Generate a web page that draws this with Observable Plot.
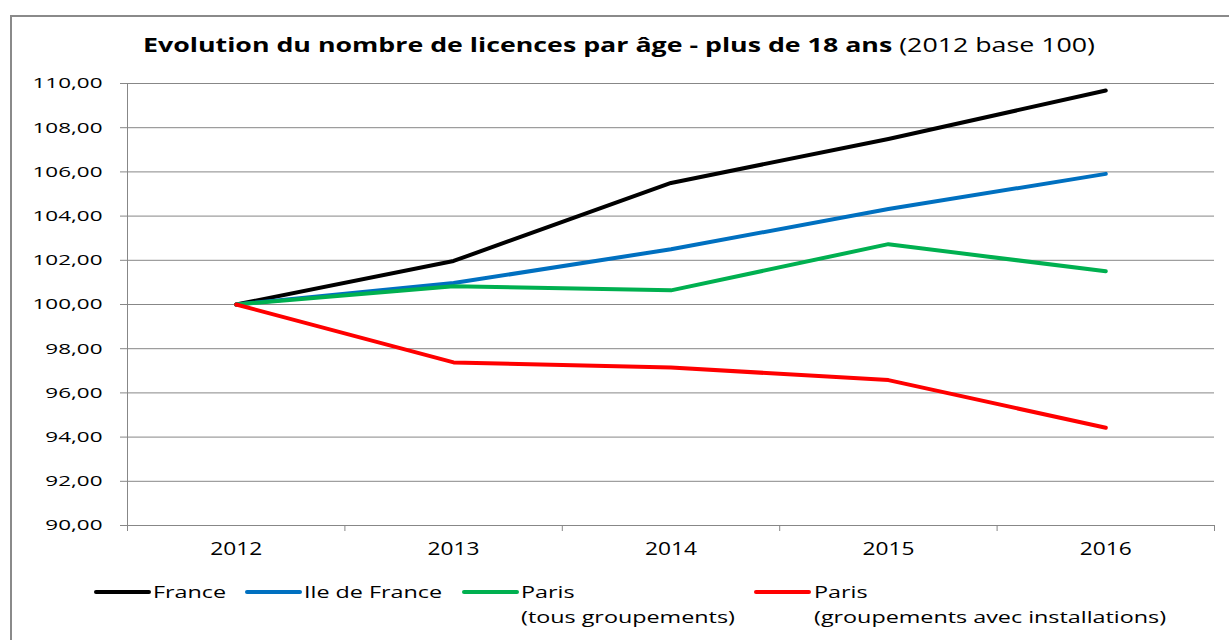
<!DOCTYPE html>
<html>
<head>
<meta charset="utf-8">
<script src="https://cdn.jsdelivr.net/npm/d3@7"></script>
<script src="https://cdn.jsdelivr.net/npm/@observablehq/plot@0.6"></script>
<style>
  html, body { margin: 0; padding: 0; background: #fff; overflow: hidden; }
  #wrap { position: relative; width: 1229px; height: 640px; overflow: hidden; font-family: "Open Sans", sans-serif; color: #000; }
  #frame { position: absolute; left: 10px; top: 15px; width: 1240px; height: 700px; border: 2px solid #8a8a8a; box-sizing: border-box; }
  #title { position: absolute; left: 619px; top: 31px; font-size: 20px; line-height: 28px; white-space: nowrap; display: inline-block; }
  #title b { font-weight: 700; }
  #chart { position: absolute; left: 0; top: 0; }
  .leg { position: absolute; font-size: 16px; line-height: 24px; white-space: nowrap; transform-origin: 0 50%; }
  .sw { position: absolute; height: 4px; border-radius: 2px; }
</style>
</head>
<body>
<div id="wrap">
  <div id="frame"></div>
  <div id="chart"></div>
  <div id="title"><b>Evolution du nombre de licences par âge - plus de 18 ans</b> (2012 base 100)</div>
  <div id="legend"></div>
</div>
<script>
const years = [2012, 2013, 2014, 2015, 2016];
const seriesNames = ["France", "Ile de France", "Paris\n(tous groupements)", "Paris\n(groupements avec installations)"];
const seriesColors = ["#000000", "#0070C0", "#00B050", "#FF0000"];
const france = [100, 101.97, 105.5, 107.49, 109.68];
const ileDeFrance = [100, 100.97, 102.5, 104.32, 105.91];
const parisTous = [100, 100.83, 100.64, 102.73, 101.5];
const parisInstall = [100, 97.38, 97.15, 96.58, 94.42];
const yTicks = [90, 92, 94, 96, 98, 100, 102, 104, 106, 108, 110];
const xBoundaries = [2011.5, 2012.5, 2013.5, 2014.5, 2015.5, 2016.5];

const allSeries = [france, ileDeFrance, parisTous, parisInstall];
const data = [];
allSeries.forEach((vals, si) => {
  vals.forEach((v, i) => data.push({ series: seriesNames[si], year: years[i], value: v }));
});

const fmt = d => d.toFixed(2).replace(".", ",");
const gridColor = "#878787";

const plot = Plot.plot({
  width: 1229,
  height: 560,
  marginTop: 83,
  marginBottom: 35,
  marginLeft: 127,
  marginRight: 15,
  style: { fontFamily: "'Open Sans', sans-serif", fontSize: "15px", color: "#000", background: "transparent" },
  x: { type: "linear", domain: [2011.5, 2016.5] },
  y: { domain: [90, 110] },
  color: { domain: seriesNames, range: seriesColors },
  marks: [
    Plot.gridY(yTicks, { stroke: gridColor, strokeOpacity: 1, strokeWidth: 1 }),
    Plot.ruleX([2011.5], { stroke: gridColor, strokeWidth: 1 }),
    Plot.ruleY([90], { stroke: gridColor, strokeWidth: 1 }),
    Plot.axisY(yTicks, { tickFormat: fmt, tickSize: 7, tickPadding: 18, stroke: gridColor, fill: "#000", label: null, fontSize: 15 }),
    Plot.axisX(xBoundaries, { tickFormat: () => "", tickSize: 6, stroke: gridColor, label: null }),
    Plot.axisX(years, { tickFormat: d => String(d), tickSize: 0, tickPadding: 17, fill: "#000", label: null, fontSize: 18 }),
    Plot.line(data, { x: "year", y: "value", z: "series", stroke: "series", strokeWidth: 4, strokeLinecap: "round", strokeLinejoin: "round" })
  ]
});
document.getElementById("chart").appendChild(plot);

// widen axis labels horizontally like the reference's stretched rendering
function stretchTexts(nodes, sampleText, targetWidth) {
  const arr = Array.from(nodes);
  const sample = arr.find(n => n.textContent === sampleText) || arr[0];
  if (!sample) return;
  const k = targetWidth / sample.getComputedTextLength();
  arr.forEach(n => {
    const w = n.getComputedTextLength();
    if (w > 0) {
      n.setAttribute("textLength", (w * k).toFixed(2));
      n.setAttribute("lengthAdjust", "spacingAndGlyphs");
    }
  });
}
stretchTexts(plot.querySelectorAll('g[aria-label="y-axis tick label"] text'), "110,00", 70);
stretchTexts(plot.querySelectorAll('g[aria-label="x-axis tick label"] text'), "2012", 52);

// title
const title = document.getElementById("title");
const tw = title.getBoundingClientRect().width;
title.style.transform = `translateX(-50%) scaleX(${(952 / tw).toFixed(4)})`;

// legend
const legendItems = [
  { swX: 94, txX: 153 },
  { swX: 245, txX: 304 },
  { swX: 462, txX: 521 },
  { swX: 754, txX: 814 }
];
const leg = document.getElementById("legend");
const legTexts = [];
seriesNames.forEach((name, i) => {
  const sw = document.createElement("div");
  sw.className = "sw";
  sw.style.left = legendItems[i].swX + "px";
  sw.style.top = "590px";
  sw.style.width = "57px";
  sw.style.background = seriesColors[i];
  leg.appendChild(sw);
  name.split("\n").forEach((t, j) => {
    const tx = document.createElement("div");
    tx.className = "leg";
    tx.style.left = legendItems[i].txX + "px";
    tx.style.top = (580 + j * 25) + "px";
    tx.textContent = t;
    leg.appendChild(tx);
    legTexts.push(tx);
  });
});
const longest = legTexts.find(t => t.textContent.startsWith("(groupements"));
const lk = 352 / longest.getBoundingClientRect().width;
legTexts.forEach(t => { t.style.transform = `scaleX(${lk.toFixed(4)})`; });
</script>
</body>
</html>
